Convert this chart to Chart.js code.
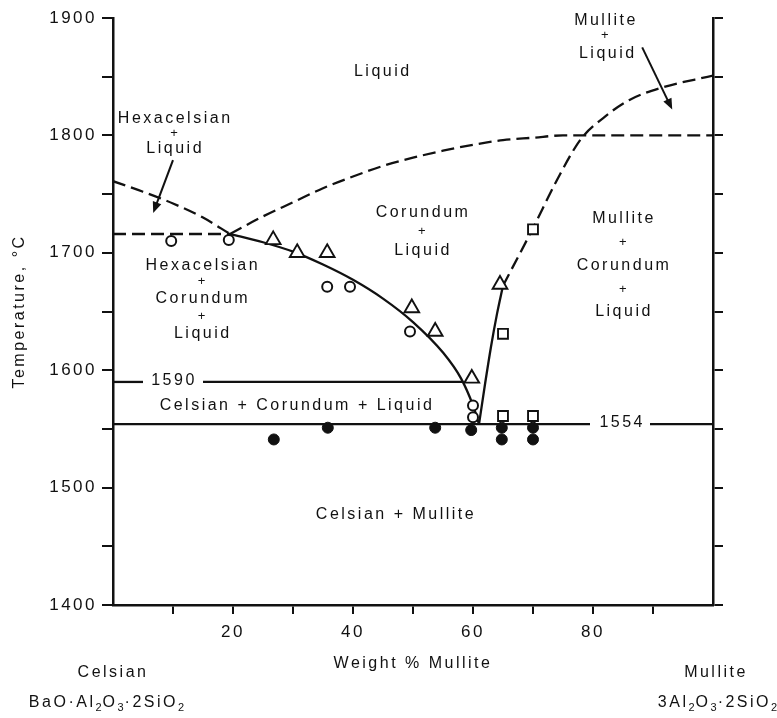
<!DOCTYPE html>
<html><head><meta charset="utf-8">
<script src="https://cdn.jsdelivr.net/npm/chart.js@4.4.1/dist/chart.umd.min.js"></script>
<style>html,body{margin:0;padding:0;background:#fff}canvas{display:block}</style>
</head><body>
<canvas id="c" width="777" height="718"></canvas>
<script>
// ---------------- data ----------------
const xTickLabels = [20, 40, 60, 80];
const yTickLabels = [1400, 1500, 1600, 1700, 1800, 1900];

// hexacelsian liquidus (dashed)
const hexLiqX = [0, 5, 10, 15, 19.5];
const hexLiqY = [1761, 1752, 1742, 1730, 1716];
// hexacelsian + corundum invariant (dashed)
const hexInvX = [0, 19.5];
const hexInvY = [1716, 1716];
// upper liquid boundary + 1800 line (dashed)
const upperX = [19.5, 25, 30, 35, 40, 45, 50, 55, 60, 65, 70, 75, 80, 90, 100];
const upperY = [1716, 1731, 1743, 1755, 1765, 1774, 1781, 1787, 1792, 1796, 1798, 1800, 1800, 1800, 1800];
// corundum liquidus (solid)
const corLiqX = [19.5, 25, 30, 35, 40, 45, 50, 55, 58, 60, 61];
const corLiqY = [1716, 1709, 1701, 1690, 1677, 1661, 1641, 1615, 1593, 1570, 1554];
// mullite liquidus: solid part and dashed part
const mulSolidX = [61, 62, 63, 64, 65];
const mulSolidY = [1554, 1588, 1620, 1648, 1672];
const mulDashX = [65, 70, 74, 78, 82, 86, 91, 100];
const mulDashY = [1672, 1721, 1762, 1797, 1816, 1830, 1840, 1851];
// 1590 isotherm (two segments around the label)
const iso1590X1 = [0, 5];
const iso1590X2 = [15, 58.4];
const iso1590 = 1590;
// 1554 isotherm
const iso1554X1 = [0, 79.5];
const iso1554X2 = [89.5, 100];
const iso1554 = 1554;

// experimental points
const openCircleX = [9.7, 19.3, 35.7, 39.5, 49.5, 60, 60];
const openCircleY = [1710, 1711, 1671, 1671, 1633, 1570, 1560];
const triangleX = [26.7, 30.7, 35.7, 49.8, 53.7, 59.8, 64.5];
const triangleY = [1711, 1700, 1700, 1653, 1633, 1593, 1673];
const squareX = [70, 65, 65, 70];
const squareY = [1720, 1631, 1561, 1561];
const filledX = [26.8, 35.8, 53.7, 59.7, 64.8, 64.8, 70, 70];
const filledY = [1541, 1551, 1551, 1549, 1551, 1541, 1551, 1541];

// text labels in the field (data units)
const fieldLabels = [
  ['Liquid', 44.8, 1854],
  ['Hexacelsian', 10.2, 1814], ['+', 10.2, 1802], ['Liquid', 10.2, 1789],
  ['Corundum', 51.5, 1734], ['+', 51.5, 1718], ['Liquid', 51.5, 1702],
  ['Hexacelsian', 14.8, 1689], ['+', 14.8, 1676], ['Corundum', 14.8, 1661], ['+', 14.8, 1646], ['Liquid', 14.8, 1631],
  ['1590', 10, 1591],
  ['Celsian + Corundum + Liquid', 30.5, 1570],
  ['1554', 84.7, 1555],
  ['Celsian + Mullite', 47, 1477],
  ['Mullite', 85, 1729], ['+', 85, 1709], ['Corundum', 85, 1689], ['+', 85, 1669], ['Liquid', 85, 1650],
  ['Mullite', 82, 1898], ['+', 82, 1885], ['Liquid', 82.3, 1870]
];
// arrows [x0, y0, x1, y1] in data units (tip at x1,y1)
const arrows = [
  [10, 1779, 6.7, 1734],
  [88.2, 1875, 93.2, 1822]
];
// end-member names and formulas (second item of each pair: 1 = subscript)
const endNames = ['Celsian', 'Mullite'];
const endValues = [0, 100];
const endFormulas = [
  [['BaO·Al', 0], ['2', 1], ['O', 0], ['3', 1], ['·2SiO', 0], ['2', 1]],
  [['3Al', 0], ['2', 1], ['O', 0], ['3', 1], ['·2SiO', 0], ['2', 1]]
];

// ---------------- chart ----------------
const FONT = '"Liberation Sans", Arial, "DejaVu Sans", sans-serif';
const INK = '#111';
const pts = (xs, ys) => xs.map((x, i) => ({x, y: ys[i]}));
const flat = (xs, y) => xs.map(x => ({x, y}));
const lineDS = (data, dashed) => ({
  data, showLine: true, borderColor: INK, borderWidth: 2.3,
  borderDash: dashed ? [13, 6] : [], pointRadius: 0, pointHoverRadius: 0,
  cubicInterpolationMode: 'monotone', fill: false
});
const markDS = (data, style, r, bg, bw) => ({
  data, showLine: false, pointStyle: style, pointRadius: r, pointHoverRadius: r,
  pointBackgroundColor: bg, pointBorderColor: INK, pointBorderWidth: bw,
  borderColor: INK, backgroundColor: bg
});

const spacing = {
  id: 'spacing',
  beforeUpdate(c) { c.ctx.letterSpacing = '2.5px'; },
  beforeDraw(c) { c.ctx.letterSpacing = '2.5px'; }
};

function drawRich(ctx, parts, cx, y) {
  const fonts = ['16px ' + FONT, '11px ' + FONT];
  let w = 0;
  parts.forEach(([t, s]) => { ctx.font = fonts[s]; ctx.letterSpacing = s ? '1px' : '2.5px'; w += ctx.measureText(t).width; });
  let x = cx - w / 2;
  ctx.textAlign = 'left';
  parts.forEach(([t, s]) => {
    ctx.font = fonts[s]; ctx.letterSpacing = s ? '1px' : '2.5px';
    ctx.fillText(t, x, y + (s ? 5 : 0));
    x += ctx.measureText(t).width;
  });
  ctx.textAlign = 'center';
  ctx.letterSpacing = '2.5px';
}

const texts = {
  id: 'texts',
  afterDraw(c) {
    const ctx = c.ctx, xs = c.scales.x, ys = c.scales.y;
    ctx.save();
    ctx.letterSpacing = '2.5px';
    ctx.fillStyle = INK;
    ctx.textAlign = 'center';
    ctx.textBaseline = 'middle';
    fieldLabels.forEach(([t, x, y]) => {
      ctx.font = (t === '+' ? '13px ' : '16px ') + FONT;
      ctx.fillText(t, xs.getPixelForValue(x) + 1, ys.getPixelForValue(y));
    });
    // arrows
    ctx.strokeStyle = INK; ctx.lineWidth = 2;
    arrows.forEach(([x0, y0, x1, y1]) => {
      const px0 = xs.getPixelForValue(x0), py0 = ys.getPixelForValue(y0);
      const px1 = xs.getPixelForValue(x1), py1 = ys.getPixelForValue(y1);
      const a = Math.atan2(py1 - py0, px1 - px0);
      const L = 11, W = 4.5;
      ctx.beginPath();
      ctx.moveTo(px0, py0);
      ctx.lineTo(px1 - Math.cos(a) * L * 0.8, py1 - Math.sin(a) * L * 0.8);
      ctx.stroke();
      ctx.beginPath();
      ctx.moveTo(px1, py1);
      ctx.lineTo(px1 - Math.cos(a) * L - Math.sin(a) * W, py1 - Math.sin(a) * L + Math.cos(a) * W);
      ctx.lineTo(px1 - Math.cos(a) * L + Math.sin(a) * W, py1 - Math.sin(a) * L - Math.cos(a) * W);
      ctx.closePath();
      ctx.fill();
    });
    // end-member labels under the axis
    endNames.forEach((name, i) => {
      let px = xs.getPixelForValue(endValues[i]);
      if (i === 1) px += 3;
      ctx.font = '16px ' + FONT;
      ctx.fillText(name, px, 673);
      drawRich(ctx, endFormulas[i], i === 1 ? px + 2 : px - 6, 703);
    });
    ctx.restore();
  }
};

const tickColor = (ctx) => (ctx.tick && (ctx.tick.value === 0 || ctx.tick.value === 100)) ? 'rgba(0,0,0,0)' : INK;

new Chart(document.getElementById('c'), {
  type: 'scatter',
  data: {
    datasets: [
      markDS(pts(openCircleX, openCircleY), 'circle', 5, '#fff', 2),
      markDS(pts(triangleX, triangleY), 'triangle', 8.5, '#fff', 1.9),
      markDS(pts(squareX, squareY), 'rect', 7, '#fff', 1.9),
      markDS(pts(filledX, filledY), 'circle', 5.5, INK, 1),
      lineDS(pts(hexLiqX, hexLiqY), true),
      lineDS(pts(hexInvX, hexInvY), true),
      lineDS(pts(upperX, upperY), true),
      lineDS(pts(corLiqX, corLiqY), false),
      lineDS(pts(mulSolidX, mulSolidY), false),
      lineDS(pts(mulDashX, mulDashY), true),
      lineDS(flat(iso1590X1, iso1590), false),
      lineDS(flat(iso1590X2, iso1590), false),
      lineDS(flat(iso1554X1, iso1554), false),
      lineDS(flat(iso1554X2, iso1554), false)
    ]
  },
  options: {
    responsive: false,
    animation: false,
    devicePixelRatio: 1,
    layout: { padding: { top: 18, right: 0, bottom: 0, left: 0 } },
    plugins: { legend: { display: false }, tooltip: { enabled: false } },
    events: [],
    scales: {
      x: {
        type: 'linear', position: 'bottom', min: 0, max: 100,
        afterFit(s) { s.height = 113; },
        ticks: {
          stepSize: 10, autoSkip: false, maxRotation: 0, padding: 8,
          color: INK, font: { family: FONT, size: 17 },
          callback: v => xTickLabels.includes(v) ? String(v) : ''
        },
        grid: { drawOnChartArea: false, drawTicks: true, tickLength: 9, color: tickColor, lineWidth: 2 },
        border: { display: true, color: INK, width: 2.5 },
        title: { display: true, text: 'Weight % Mullite', color: INK, font: { family: FONT, size: 16 }, padding: { top: 0, bottom: 45 } }
      },
      y: {
        type: 'linear', position: 'left', min: 1400, max: 1900,
        afterFit(s) { s.width = 113; },
        ticks: {
          stepSize: 50, autoSkip: false, padding: 5,
          color: INK, font: { family: FONT, size: 17 },
          callback: v => yTickLabels.includes(v) ? String(v) : ''
        },
        grid: { drawOnChartArea: false, drawTicks: true, tickLength: 11, color: INK, lineWidth: 2 },
        border: { display: true, color: INK, width: 2.5 },
        title: { display: true, text: 'Temperature, °C', color: INK, font: { family: FONT, size: 16 }, padding: { top: 10, bottom: 0 } }
      },
      y2: {
        type: 'linear', position: 'right', min: 1400, max: 1900,
        afterFit(s) { s.width = 64; },
        ticks: { stepSize: 50, autoSkip: false, padding: 0, callback: () => '' },
        grid: { drawOnChartArea: false, drawTicks: true, tickLength: 10, color: INK, lineWidth: 2 },
        border: { display: true, color: INK, width: 2.5 }
      }
    }
  },
  plugins: [spacing, texts]
});
</script>
</body></html>
